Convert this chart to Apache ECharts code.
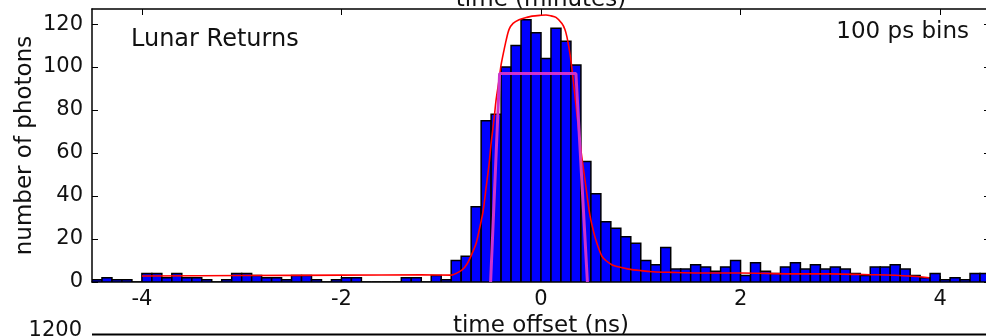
<!DOCTYPE html>
<html>
<head>
<meta charset="utf-8">
<script src="https://cdn.jsdelivr.net/npm/echarts@6/dist/echarts.min.js"></script>
<style>
html,body{margin:0;padding:0;background:#fff;}
#chart{width:986px;height:336px;}
</style>
</head>
<body>
<div id="chart"></div>
<script>
// ---- data ----
const binStart = -4.5;      // left edge of first 100 ps bin (ns)
const binWidth = 0.1;       // ns
const counts = [
  1,2,1,1,0,4,4,2,4,2,2,1,0,1,4,4,3,2,2,1,3,3,1,0,1,2,2,0,0,0,0,2,2,0,3,1,
  10,12,35,75,78,100,110,122,116,104,118,112,101,56,41,28,25,21,18,10,8,16,6,6,
  8,7,5,7,10,3,9,5,4,7,9,6,8,6,7,6,4,3,7,7,8,6,3,2,4,1,2,1,4,4
];
const fitX = [-4.0,-3.0,-2.0,-1.2,-0.9,-0.85,-0.79,-0.74,-0.69,-0.65,-0.62,-0.58,-0.55,-0.52,-0.50,-0.47,-0.45,-0.42,-0.40,-0.37,-0.35,-0.32,-0.28,-0.22,-0.15,-0.09,0.0,0.05,0.10,0.15,0.21,0.24,0.26,0.28,0.30,0.33,0.36,0.40,0.45,0.48,0.50,0.55,0.61,0.65,0.71,0.75,0.88,1.0,1.12,1.3,1.58,2.0,2.5,2.9,3.3,3.69,3.89];
const fitY = [2.8,3.0,3.2,3.3,3.2,4.0,5.6,8.5,13.3,18,24,33,44,55,64.5,76,84.7,94,101,108,112.3,117.5,120.3,122,123,123.7,124.1,124.2,123.8,123.1,120.3,117.5,114,109,103,91,78,61.4,44.3,34,28.8,19.5,12,10,8,7.3,6,5.3,4.8,4.5,4.2,4.2,3.8,3.8,3.4,2.8,2.0];
const fwhmX = [-0.505,-0.415,0.35,0.465];
const fwhmY = [0,97,97,0];
const xTicks = [-4,-2,0,2,4];
const yTicks = [0,20,40,60,80,100,120];

// ---- build series data ----
const barData = counts.map((c,i)=>{
  const x0 = +(binStart + i*binWidth).toFixed(2);
  return [x0, +(x0+binWidth).toFixed(2), c];
});
const fitData = fitX.map((x,i)=>[x, fitY[i]]);
const fwhmData = fwhmX.map((x,i)=>[x, fwhmY[i]]);

const FONT = 'DejaVu Sans';
const chart = echarts.init(document.getElementById('chart'), null, {renderer:'canvas'});
chart.setOption({
  animation:false,
  backgroundColor:'#ffffff',
  textStyle:{fontFamily:FONT},
  grid:{left:92, top:9, right:-4, bottom:54, containLabel:false, outerBoundsMode:'none'},
  xAxis:[{
    type:'value', min:-4.5, max:4.5,
    axisLine:{show:true, onZero:false, lineStyle:{color:'#000', width:1.5}},
    axisTick:{show:true, inside:true, length:6, customValues:xTicks, lineStyle:{color:'#000'}},
    axisLabel:{show:true, customValues:xTicks, fontSize:21, color:'#111', margin:7, fontFamily:FONT},
    splitLine:{show:false},
    name:'time offset (ns)', nameLocation:'middle', nameGap:30,
    nameTextStyle:{fontSize:23, color:'#111', fontFamily:FONT}
  },{
    type:'value', min:-4.5, max:4.5, position:'top',
    axisLine:{show:true, onZero:false, lineStyle:{color:'#000', width:1.5}},
    axisTick:{show:true, inside:true, length:6, customValues:xTicks, lineStyle:{color:'#000'}},
    axisLabel:{show:false}, splitLine:{show:false}
  }],
  yAxis:[{
    type:'value', min:0, max:127,
    axisLine:{show:true, onZero:false, lineStyle:{color:'#000', width:1.5}},
    axisTick:{show:true, inside:true, length:6, customValues:yTicks, lineStyle:{color:'#000'}},
    axisLabel:{show:true, customValues:yTicks, fontSize:21, color:'#111', margin:9, fontFamily:FONT},
    splitLine:{show:false},
    name:'number of photons', nameLocation:'middle', nameGap:55, nameRotate:90, nameMoveOverlap:false,
    nameTextStyle:{fontSize:23, color:'#111', fontFamily:FONT}
  },{
    type:'value', min:0, max:127, position:'right',
    axisLine:{show:true, onZero:false, lineStyle:{color:'#000', width:1.5}},
    axisTick:{show:true, inside:true, length:6, customValues:yTicks, lineStyle:{color:'#000'}},
    axisLabel:{show:false}, splitLine:{show:false}
  }],
  series:[{
    type:'custom', xAxisIndex:0, yAxisIndex:0, clip:true,
    data:barData,
    encode:{x:[0,1], y:2},
    renderItem:function(params, api){
      const p0 = api.coord([api.value(0), 0]);
      const p1 = api.coord([api.value(1), api.value(2)]);
      return {type:'rect',
        shape:{x:p0[0], y:p1[1], width:p1[0]-p0[0], height:p0[1]-p1[1]},
        style:{fill:'#0000ff', stroke:'#000', lineWidth:1.5}};
    },
    z:2
  },{
    type:'line', data:fitData, showSymbol:false, smooth:0.3,
    lineStyle:{color:'#ff0000', width:1.6}, z:3
  },{
    type:'line', data:fwhmData, showSymbol:false,
    lineStyle:{color:'#cc33cc', width:3}, z:4
  }],
  graphic:[
    {type:'text', left:131, top:28, style:{text:'Lunar Returns', font:'24px "DejaVu Sans"', fill:'#111'}},
    {type:'text', right:17, top:21, style:{text:'100 ps bins', font:'23px "DejaVu Sans"', fill:'#111'}},
    {type:'text', x:541, y:12, style:{text:'time (minutes)', font:'23px "DejaVu Sans"', fill:'#111', align:'center', verticalAlign:'bottom'}},
    {type:'text', x:82, y:331, style:{text:'1200', font:'21px "DejaVu Sans"', fill:'#111', align:'right', verticalAlign:'middle'}},
    {type:'line', shape:{x1:92, y1:334.5, x2:990, y2:334.5}, style:{stroke:'#000', lineWidth:2}}
  ]
});
</script>
</body>
</html>
